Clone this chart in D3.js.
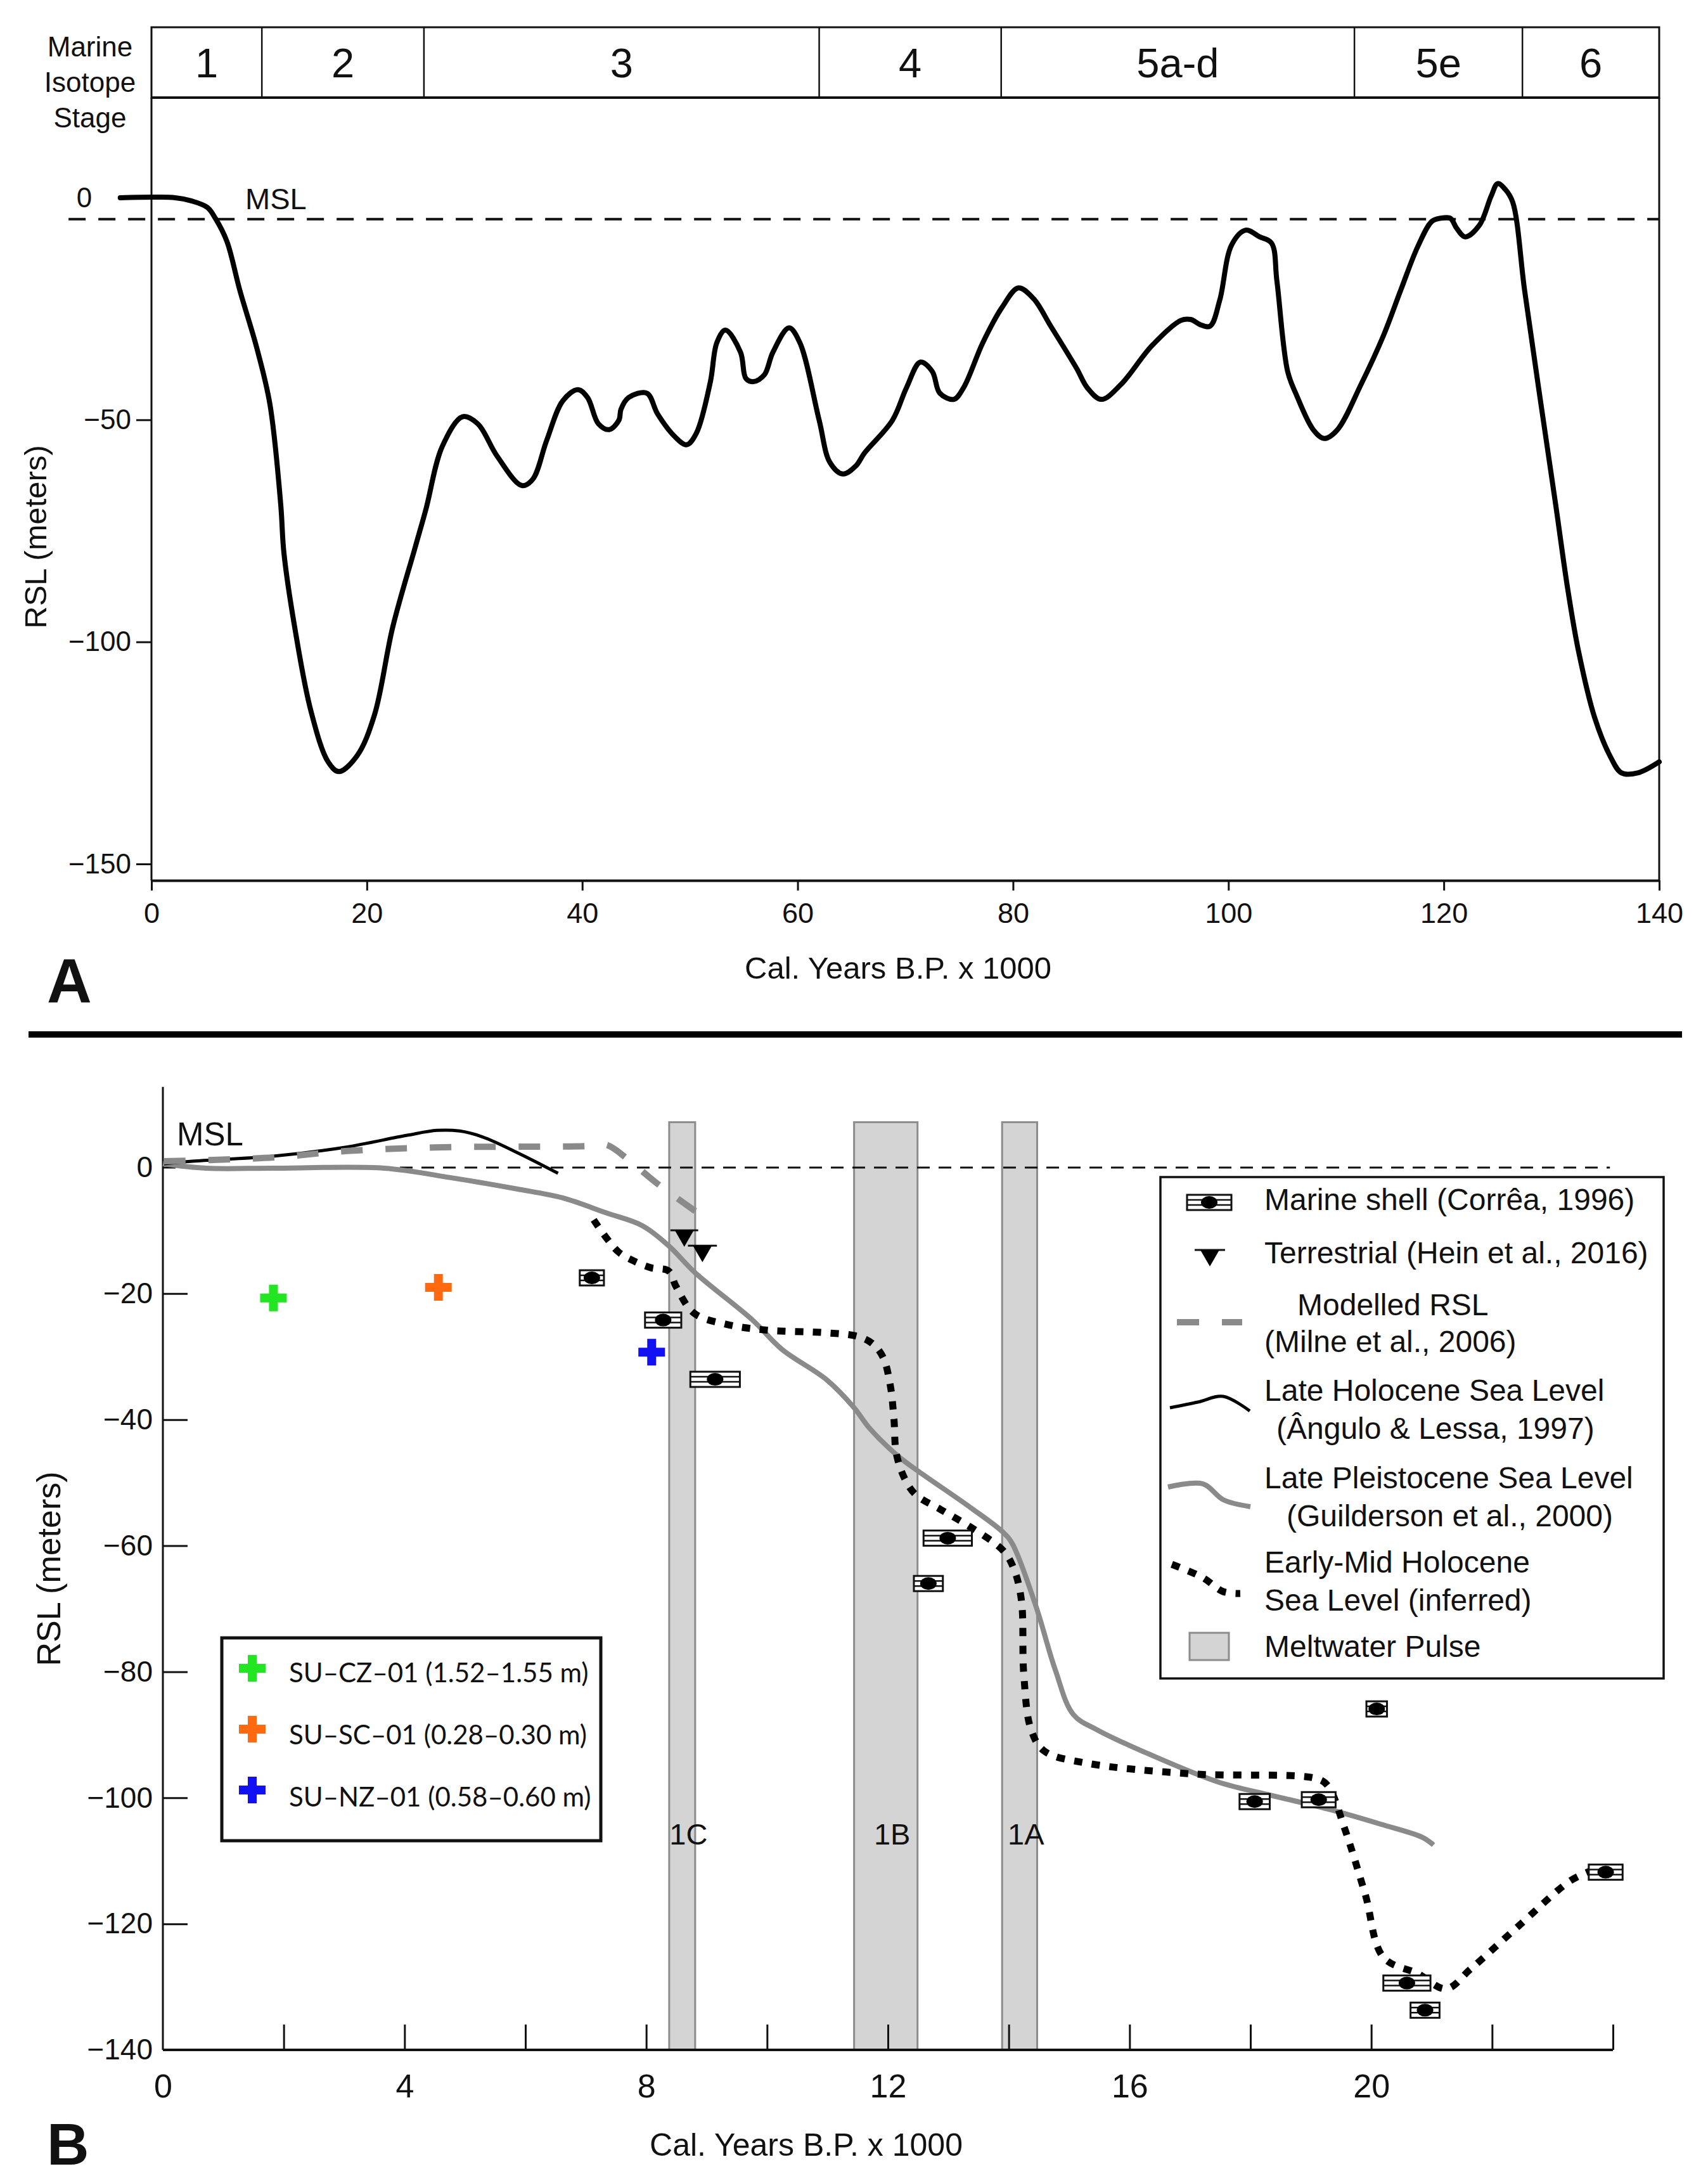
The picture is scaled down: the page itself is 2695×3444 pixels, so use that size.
<!DOCTYPE html>
<html>
<head>
<meta charset="utf-8">
<script src="https://cdn.jsdelivr.net/npm/d3@7"></script>
<style>
  body { margin: 0; background: #fff; }
  svg text { font-family: "Liberation Sans", Arial, sans-serif; fill: #111; }
</style>
</head>
<body>
<svg id="chart" width="2695" height="3444"></svg>
<script>

// ---------- panel A data (Marine isotope stages + RSL curve) ----------
var stageNames = ["1", "2", "3", "4", "5a-d", "5e", "6"];
var stageBounds = [0, 10.25, 25.3, 62.0, 78.9, 111.7, 127.3, 140];
var ticksAx = [0, 20, 40, 60, 80, 100, 120, 140];
var ticksAy = [-50, -100, -150];
var mslA = -4.8;
var rslA = [[-2.9,0],[2.2,0],[3.7,-0.7],[5.2,-2.2],[5.95,-4.7],[7.0,-9.8],[8.2,-20.8],[9.8,-34],
  [11.0,-46.5],[12.0,-69],[12.3,-80],[13.3,-96.7],[14.8,-115.5],[16.4,-127],[17.4,-129.2],
  [19.1,-125.6],[20.7,-116.5],[22.4,-96.7],[24.5,-78.6],[25.5,-70],[27.0,-56],[28.9,-49.3],
  [30.3,-50.9],[32.1,-58.2],[34.4,-64.8],[35.4,-63.4],[36.7,-54.6],[38.2,-45.7],[39.6,-43.2],
  [40.5,-45],[41.5,-50.9],[42.5,-52.2],[43.4,-50.1],[43.6,-47.6],[44.3,-45],[46.0,-44],
  [47.0,-48.7],[48.6,-53.8],[49.7,-55.6],[50.6,-53],[51.9,-41.4],[52.5,-32.6],[53.3,-29.8],
  [54.7,-34.8],[55.2,-40.7],[55.9,-41.4],[56.9,-39.9],[57.7,-34.8],[59.2,-29.3],[60.2,-32.6],
  [62.0,-50.1],[63.0,-59.6],[64.2,-62.2],[65.4,-60.4],[66.2,-57.5],[68.8,-50.1],[70.1,-42.8],
  [71.4,-37],[72.5,-39.1],[73.2,-44],[74.5,-45.4],[75.4,-42.8],[77.2,-32.6],[79.0,-24.6],
  [80.5,-20.3],[81.9,-22.7],[83.5,-28.9],[85.9,-38.4],[86.9,-42.8],[88.2,-45.4],[90.0,-42.1],
  [92.9,-33.3],[95.6,-27.6],[96.5,-27.4],[97.4,-28.6],[98.3,-28.9],[99.2,-23],[100.3,-10.6],
  [101.6,-7.3],[102.9,-8.8],[104.0,-10.2],[104.5,-18.7],[105.5,-39.1],[106.3,-44.3],
  [107.9,-52.3],[108.9,-54.2],[110.1,-52.3],[112.3,-42.1],[114.4,-31],[116.0,-20.8],
  [117.6,-10.9],[118.9,-5.3],[119.7,-4.6],[120.6,-4.6],[121.2,-6.9],[122.0,-8.8],[123.3,-6.2],
  [124.4,0.4],[125.0,3.2],[125.7,1.9],[126.4,-1.0],[127.5,-20.8],[128.8,-42.8],[130.4,-69.3],
  [131.5,-88],[132.5,-102],[134.0,-117],[135.5,-126],[136.5,-129.5],[138.0,-129.5],[140.0,-127]];

// ---------- panel B data ----------
var ticksBx = [2, 4, 6, 8, 10, 12, 14, 16, 18, 20, 22, 24];
var labelsBx = [0, 4, 8, 12, 16, 20];
var ticksBy = [0, -20, -40, -60, -80, -100, -120, -140];

var pulseNames = ["1C", "1B", "1A"];
var pulseStart = [8.38, 11.44, 13.89];
var pulseEnd = [8.81, 12.49, 14.47];
var pulseTop = 7.2;

var lateHolocene = [[0.02,0.6],[0.49,1.0],[1.83,1.8],[3.0,3.2],[4.03,5.1],[4.54,5.9],[4.91,5.8],
  [5.28,4.9],[5.86,2.4],[6.54,-0.9]];
var modelledRSL = [[0.02,1.0],[1.83,1.6],[3.0,2.6],[4.5,3.2],[6.98,3.4],[7.34,3.6],[7.71,1.2],
  [8.15,-2.3],[8.81,-6.9]];
var latePleistocene = [[0,0.6],[0.71,-0.1],[1.83,-0.1],[3.66,-0.1],[4.76,-1.6],[5.86,-3.4],
  [6.61,-4.8],[7.34,-7.2],[7.93,-9.2],[8.37,-12.4],[8.81,-16.7],[9.76,-24.2],[10.24,-28.8],
  [10.99,-33.7],[11.44,-38.1],[11.69,-41.3],[12.17,-45.8],[12.52,-48.3],[13.36,-53.9],
  [13.91,-57.9],[14.06,-59.7],[14.45,-69.6],[14.77,-79.7],[15.07,-86.8],[15.46,-89.2],
  [16.33,-93.1],[17.47,-97.5],[18.34,-99.6],[19.29,-101.8],[20.16,-104.2],[20.85,-106.3],
  [21.03,-107.5]];
var earlyMidHolocene = [[7.13,-8.3],[7.53,-13.3],[7.79,-14.8],[8.08,-15.9],[8.37,-16.4],
  [8.49,-18.8],[8.79,-23.1],[9.34,-24.9],[10.0,-25.8],[10.96,-26.2],[11.5,-26.8],[11.74,-27.9],
  [11.92,-30.1],[12.04,-34.6],[12.1,-39.9],[12.14,-45.4],[12.28,-49.4],[12.46,-51.9],
  [12.88,-54.3],[13.36,-57.0],[13.91,-60.8],[14.09,-63.8],[14.21,-68.7],[14.25,-80.6],
  [14.37,-89.2],[14.59,-92.6],[15.29,-94.5],[17.02,-96.2],[19.11,-97.0],[19.29,-98.2],
  [19.55,-104.6],[19.9,-115.3],[20.2,-125.3],[20.77,-127.9],[21.24,-130.3],[21.64,-127.2],
  [22.42,-120.5],[23.29,-113.2],[23.63,-111.6]];

var shellAge = [7.10, 8.28, 9.14, 12.99, 12.67, 20.09, 18.07, 19.13, 20.59, 20.89, 23.88];
var shellRsl = [-17.5, -24.2, -33.6, -58.8, -66.0, -85.9, -100.6, -100.3, -129.4, -133.7, -111.8];
var shellErr = [0.20, 0.30, 0.41, 0.40, 0.24, 0.17, 0.25, 0.28, 0.39, 0.24, 0.28];

var terrAge = [8.63, 8.93];
var terrRsl = [-9.96, -12.4];
var terrErr = [0.23, 0.24];

var sampleNames = ["SU\u2013CZ\u201301 (1.52\u20131.55 m)", "SU\u2013SC\u201301 (0.28\u20130.30 m)", "SU\u2013NZ\u201301 (0.58\u20130.60 m)"];
var sampleAge = [1.83, 4.56, 8.09];
var sampleRsl = [-20.7, -19.0, -29.3];
var sampleColors = ["#22e622", "#ff6a10", "#1010f2"];

var legendLabels = [
  ["Marine shell (Corr\u00eaa, 1996)"],
  ["Terrestrial (Hein et al., 2016)"],
  ["Modelled RSL", "(Milne et al., 2006)"],
  ["Late Holocene Sea Level", "(\u00c2ngulo & Lessa, 1997)"],
  ["Late Pleistocene Sea Level", "(Guilderson et al., 2000)"],
  ["Early-Mid Holocene", "Sea Level (inferred)"],
  ["Meltwater Pulse"]
];

var GRAY = "#8a8a8a";
var svg = d3.select("#chart");

// ===================== PANEL A =====================
function drawPanelA() {
  var xA = d3.scaleLinear().domain([0, 140]).range([239, 2618]);
  var yA = d3.scaleLinear().domain([0, -150]).range([312, 1363]);
  var stageTop = 43, stageBottom = 154, bottomA = yA(-153.7);
  var g = svg.append("g").attr("class", "panelA");

  // stage box
  g.append("rect")
    .attr("x", xA(0)).attr("y", stageTop)
    .attr("width", xA(140) - xA(0)).attr("height", stageBottom - stageTop)
    .attr("fill", "none").attr("stroke", "#111").attr("stroke-width", 3);
  g.append("line")
    .attr("x1", xA(0)).attr("x2", xA(140)).attr("y1", stageBottom).attr("y2", stageBottom)
    .attr("stroke", "#111").attr("stroke-width", 4);
  g.selectAll(".stageDiv").data(stageBounds.slice(1, -1)).enter().append("line")
    .attr("class", "stageDiv")
    .attr("x1", function(d) { return xA(d); }).attr("x2", function(d) { return xA(d); })
    .attr("y1", stageTop).attr("y2", stageBottom)
    .attr("stroke", "#111").attr("stroke-width", 2.5);
  g.selectAll(".stageLbl").data(stageNames).enter().append("text")
    .attr("class", "stageLbl")
    .attr("x", function(d, i) { return xA((stageBounds[i] + stageBounds[i + 1]) / 2); })
    .attr("y", 122)
    .attr("text-anchor", "middle").attr("font-size", 65)
    .text(function(d) { return d; });
  g.selectAll(".misLbl").data(["Marine", "Isotope", "Stage"]).enter().append("text")
    .attr("class", "misLbl")
    .attr("x", 142).attr("y", function(d, i) { return 89 + i * 56; })
    .attr("text-anchor", "middle").attr("font-size", 44)
    .text(function(d) { return d; });

  // frame sides
  [0, 140].forEach(function(v) {
    g.append("line")
      .attr("x1", xA(v)).attr("x2", xA(v)).attr("y1", stageBottom).attr("y2", bottomA)
      .attr("stroke", "#111").attr("stroke-width", 3);
  });

  // axes
  var xAxis = d3.axisBottom(xA).tickValues(ticksAx).tickSize(16).tickSizeOuter(0).tickPadding(19);
  var gx = g.append("g").attr("transform", "translate(0," + bottomA + ")").call(xAxis);
  gx.attr("font-size", 45).attr("font-family", null);
  gx.select(".domain").attr("stroke", "#111").attr("stroke-width", 4);
  gx.selectAll(".tick line").attr("stroke", "#111").attr("stroke-width", 3);

  var yAxis = d3.axisLeft(yA).tickValues(ticksAy).tickSize(24).tickPadding(8)
    .tickFormat(function(d) { return "\u2212" + Math.abs(d); });
  var gy = g.append("g").attr("transform", "translate(" + xA(0) + ",0)").call(yAxis);
  gy.attr("font-size", 44).attr("font-family", null);
  gy.select(".domain").remove();
  gy.selectAll(".tick line").attr("stroke", "#111").attr("stroke-width", 3);
  g.append("text").attr("x", 133).attr("y", yA(0)).attr("dy", "0.35em")
    .attr("text-anchor", "middle").attr("font-size", 44).text("0");

  // MSL reference
  g.append("line")
    .attr("x1", xA(-7.7)).attr("x2", xA(140)).attr("y1", yA(mslA)).attr("y2", yA(mslA))
    .attr("stroke", "#111").attr("stroke-width", 4).attr("stroke-dasharray", "27 20");
  g.append("text").attr("x", 387).attr("y", 330).attr("font-size", 47).text("MSL");

  // RSL curve
  var line = d3.line()
    .x(function(d) { return xA(d[0]); })
    .y(function(d) { return yA(d[1]); })
    .curve(d3.curveCatmullRom.alpha(0.5));
  g.append("path").datum(rslA)
    .attr("d", line).attr("fill", "none")
    .attr("stroke", "#000").attr("stroke-width", 8)
    .attr("stroke-linejoin", "round").attr("stroke-linecap", "round");

  // titles
  g.append("text")
    .attr("transform", "translate(73,847) rotate(-90)")
    .attr("text-anchor", "middle").attr("font-size", 49).text("RSL (meters)");
  g.append("text").attr("x", 1417).attr("y", 1544)
    .attr("text-anchor", "middle").attr("font-size", 49).text("Cal. Years B.P. x 1000");
  g.append("text").attr("x", 74).attr("y", 1581)
    .attr("font-size", 98).attr("font-weight", "bold").text("A");
}

// ===================== PANEL B =====================
function drawPanelB() {
  var xB = d3.scaleLinear().domain([0, 24]).range([257, 2545]);
  var yB = d3.scaleLinear().domain([0, -140]).range([1842, 3234]);
  var g = svg.append("g").attr("class", "panelB");

  // meltwater pulses
  g.selectAll(".pulse").data(pulseNames).enter().append("rect")
    .attr("class", "pulse")
    .attr("x", function(d, i) { return xB(pulseStart[i]); })
    .attr("width", function(d, i) { return xB(pulseEnd[i]) - xB(pulseStart[i]); })
    .attr("y", yB(pulseTop))
    .attr("height", yB(-140) - yB(pulseTop))
    .attr("fill", "#d4d4d4").attr("stroke", "#8c8c8c").attr("stroke-width", 3);
  g.selectAll(".pulseLbl").data(pulseNames).enter().append("text")
    .attr("class", "pulseLbl")
    .attr("x", function(d, i) { return xB((pulseStart[i] + pulseEnd[i]) / 2) + 10; })
    .attr("y", yB(-107.4))
    .attr("text-anchor", "middle").attr("font-size", 47)
    .text(function(d) { return d; });

  // axes
  g.append("line").attr("x1", xB(0)).attr("x2", xB(0)).attr("y1", yB(12.8)).attr("y2", yB(-140))
    .attr("stroke", "#111").attr("stroke-width", 3);
  g.append("line").attr("x1", xB(0)).attr("x2", xB(24)).attr("y1", yB(-140)).attr("y2", yB(-140))
    .attr("stroke", "#111").attr("stroke-width", 4);

  var xTicks = d3.axisBottom(xB).tickValues(ticksBx).tickSize(-40).tickFormat("");
  var gxt = g.append("g").attr("transform", "translate(0," + yB(-140) + ")").call(xTicks);
  gxt.select(".domain").remove();
  gxt.selectAll(".tick line").attr("stroke", "#111").attr("stroke-width", 3);

  var xLabels = d3.axisBottom(xB).tickValues(labelsBx).tickSize(0).tickPadding(38);
  var gxl = g.append("g").attr("transform", "translate(0," + yB(-140) + ")").call(xLabels);
  gxl.attr("font-size", 52).attr("font-family", null);
  gxl.select(".domain").remove();

  var yAxis = d3.axisLeft(yB).tickValues(ticksBy).tickSize(-39).tickPadding(16)
    .tickFormat(function(d) { return d === 0 ? "0" : "\u2212" + Math.abs(d); });
  var gy = g.append("g").attr("transform", "translate(" + xB(0) + ",0)").call(yAxis);
  gy.attr("font-size", 46).attr("font-family", null);
  gy.select(".domain").remove();
  gy.selectAll(".tick line").attr("stroke", "#111").attr("stroke-width", 3)
    .attr("display", function(d) { return d === 0 || d === -140 ? "none" : null; });

  // MSL
  g.append("line").attr("x1", xB(0)).attr("x2", xB(23.95)).attr("y1", yB(0)).attr("y2", yB(0))
    .attr("stroke", "#111").attr("stroke-width", 3).attr("stroke-dasharray", "20 14");
  g.append("text").attr("x", 279).attr("y", 1807).attr("font-size", 51).text("MSL");

  // sea level curves
  var line = d3.line()
    .x(function(d) { return xB(d[0]); })
    .y(function(d) { return yB(d[1]); })
    .curve(d3.curveCatmullRom.alpha(0.5));
  g.append("path").datum(latePleistocene).attr("d", line).attr("fill", "none")
    .attr("stroke", GRAY).attr("stroke-width", 8).attr("stroke-linejoin", "round");
  g.append("path").datum(lateHolocene).attr("d", line).attr("fill", "none")
    .attr("stroke", "#000").attr("stroke-width", 5).attr("stroke-linejoin", "round");
  g.append("path").datum(modelledRSL).attr("d", line).attr("fill", "none")
    .attr("stroke", GRAY).attr("stroke-width", 10).attr("stroke-dasharray", "34 36");
  g.append("path").datum(earlyMidHolocene).attr("d", line).attr("fill", "none")
    .attr("stroke", "#000").attr("stroke-width", 11).attr("stroke-dasharray", "13 15");

  // marine shells
  var shells = g.selectAll(".shell").data(shellAge).enter().append("g")
    .attr("class", "shell")
    .attr("transform", function(d, i) { return "translate(" + xB(d) + "," + yB(shellRsl[i]) + ")"; });
  drawShell(shells, function(d, i) { return xB(d + shellErr[i]) - xB(d); });

  // terrestrial
  var terr = g.selectAll(".terr").data(terrAge).enter().append("g")
    .attr("class", "terr")
    .attr("transform", function(d, i) { return "translate(" + xB(d) + "," + yB(terrRsl[i]) + ")"; });
  drawTerr(terr, function(d, i) { return xB(d + terrErr[i]) - xB(d); });

  // samples (this study)
  var cross = d3.symbol().type(d3.symbolCross).size(980);
  g.selectAll(".sample").data(sampleAge).enter().append("path")
    .attr("class", "sample")
    .attr("transform", function(d, i) { return "translate(" + xB(d) + "," + yB(sampleRsl[i]) + ")"; })
    .attr("d", cross)
    .attr("fill", function(d, i) { return sampleColors[i]; });

  // right legend
  var lg = g.append("g").attr("class", "legendR");
  lg.append("rect").attr("x", 1831).attr("y", 1857).attr("width", 794).attr("height", 791)
    .attr("fill", "#fff").attr("stroke", "#111").attr("stroke-width", 3.5);
  var rowBase = [[1909], [1993], [2075, 2133], [2210, 2270], [2348, 2408], [2481, 2541], [2614]];
  var rowX = [[1995], [1995], [2047, 1995], [1995, 2014], [1995, 2030], [1995, 1995], [1995]];
  legendLabels.forEach(function(lines, i) {
    lines.forEach(function(t, j) {
      lg.append("text").attr("x", rowX[i][j]).attr("y", rowBase[i][j])
        .attr("font-size", 48).text(t);
    });
  });
  var s1 = lg.append("g").datum(0).attr("transform", "translate(1908,1897)");
  drawShell(s1, function() { return 35; });
  var t1 = lg.append("g").datum(0).attr("transform", "translate(1909,1972)");
  drawTerr(t1, function() { return 24; });
  var glyph = d3.line().curve(d3.curveCatmullRom.alpha(0.5));
  lg.append("path").attr("d", glyph([[1857, 2086], [1960, 2086]])).attr("fill", "none")
    .attr("stroke", GRAY).attr("stroke-width", 10).attr("stroke-dasharray", "35 36");
  lg.append("path").attr("d", glyph([[1846, 2221], [1890, 2212], [1930, 2203], [1972, 2226]]))
    .attr("fill", "none").attr("stroke", "#000").attr("stroke-width", 5);
  lg.append("path").attr("d", glyph([[1843, 2346], [1898, 2341], [1930, 2366], [1973, 2377]]))
    .attr("fill", "none").attr("stroke", GRAY).attr("stroke-width", 8);
  lg.append("path").attr("d", glyph([[1849, 2468], [1898, 2489], [1930, 2511], [1957, 2514]]))
    .attr("fill", "none").attr("stroke", "#000").attr("stroke-width", 11).attr("stroke-dasharray", "13 15");
  lg.append("rect").attr("x", 1877).attr("y", 2576).attr("width", 62).attr("height", 43)
    .attr("fill", "#d4d4d4").attr("stroke", "#8c8c8c").attr("stroke-width", 3);

  // left legend
  var ll = g.append("g").attr("class", "legendL");
  ll.append("rect").attr("x", 350).attr("y", 2584).attr("width", 598).attr("height", 320)
    .attr("fill", "#fff").attr("stroke", "#111").attr("stroke-width", 5);
  ll.selectAll(".lc").data(sampleNames).enter().append("path")
    .attr("class", "lc")
    .attr("transform", function(d, i) { return "translate(398," + (2632 + i * 96) + ")"; })
    .attr("d", cross)
    .attr("fill", function(d, i) { return sampleColors[i]; });
  ll.selectAll(".lt").data(sampleNames).enter().append("text")
    .attr("class", "lt")
    .attr("x", 456).attr("y", function(d, i) { return 2654 + i * 98; })
    .attr("font-size", 42)
    .style("font-family", "Lato, 'Open Sans', sans-serif")
    .text(function(d) { return d; });

  // titles
  g.append("text")
    .attr("transform", "translate(95,2475) rotate(-90)")
    .attr("text-anchor", "middle").attr("font-size", 52).text("RSL (meters)");
  g.append("text").attr("x", 1272).attr("y", 3401)
    .attr("text-anchor", "middle").attr("font-size", 50).text("Cal. Years B.P. x 1000");
  g.append("text").attr("x", 74).attr("y", 3415)
    .attr("font-size", 92).attr("font-weight", "bold").text("B");
}

// box with two inner lines and a dot
function drawShell(sel, halfW) {
  sel.append("rect")
    .attr("x", function(d, i) { return -halfW(d, i); })
    .attr("width", function(d, i) { return 2 * halfW(d, i); })
    .attr("y", -12).attr("height", 24)
    .attr("fill", "#fff").attr("stroke", "#111").attr("stroke-width", 3);
  [-4, 4].forEach(function(dy) {
    sel.append("line")
      .attr("x1", function(d, i) { return -halfW(d, i); })
      .attr("x2", function(d, i) { return halfW(d, i); })
      .attr("y1", dy).attr("y2", dy)
      .attr("stroke", "#111").attr("stroke-width", 2.5);
  });
  sel.append("ellipse").attr("rx", 13).attr("ry", 10).attr("fill", "#000");
}

// horizontal bar with a down-pointing triangle
function drawTerr(sel, halfW) {
  sel.append("line")
    .attr("x1", function(d, i) { return -halfW(d, i); })
    .attr("x2", function(d, i) { return halfW(d, i); })
    .attr("stroke", "#111").attr("stroke-width", 3);
  sel.append("path").attr("d", "M-15,0L15,0L0,26Z").attr("fill", "#000");
}

drawPanelA();

// separator between panels
svg.append("line").attr("x1", 45).attr("x2", 2654).attr("y1", 1632).attr("y2", 1632)
  .attr("stroke", "#000").attr("stroke-width", 10);

drawPanelB();

</script>
</body>
</html>
